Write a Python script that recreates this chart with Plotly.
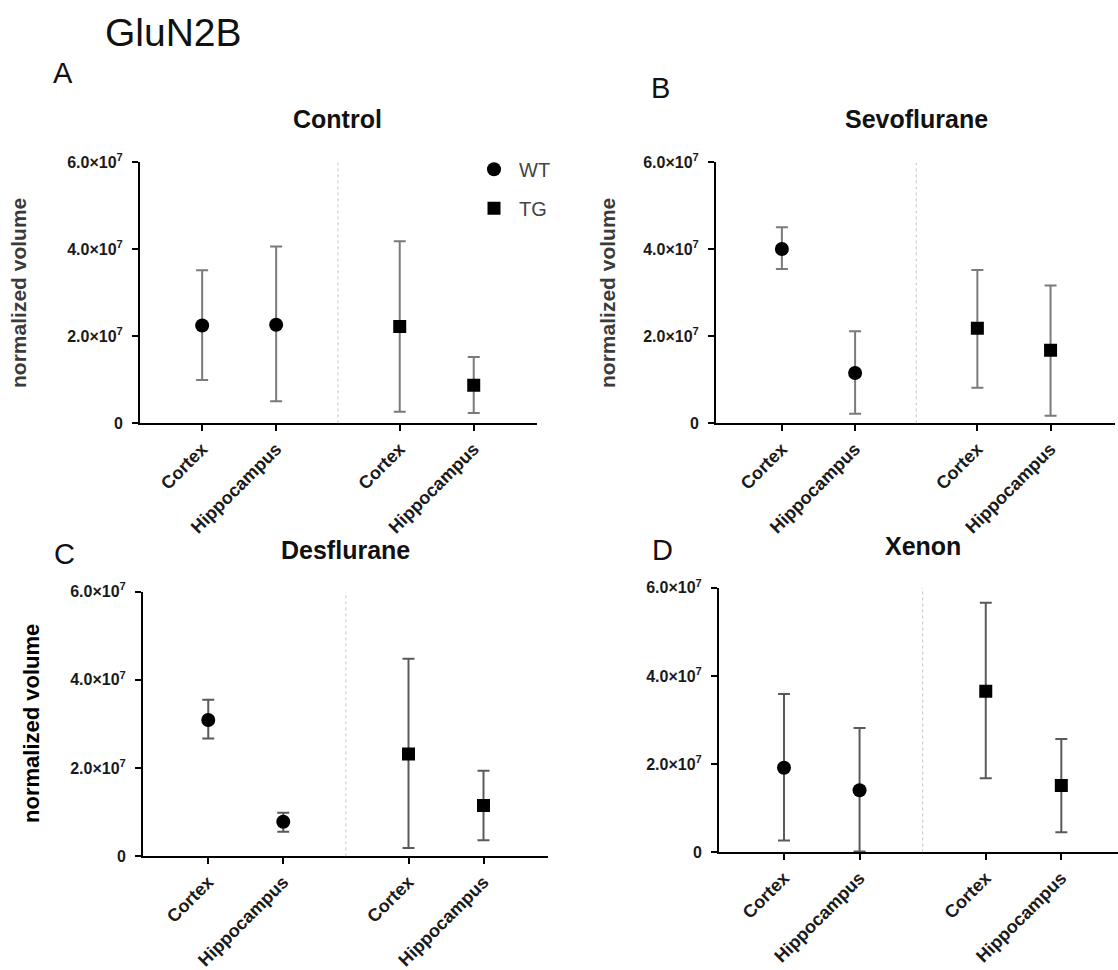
import plotly.graph_objects as go

# Regions measured per genotype, and group positions along each x axis
regions = ["Cortex", "Hippocampus"]
wt_pos = [0.0, 1.0]
tg_pos = [2.67, 3.67]
divider_pos = 1.835

# GluN2B normalized volume (x 10^6): mean, upper whisker, lower whisker
panels = ["Control", "Sevoflurane", "Desflurane", "Xenon"]
letters = ["A", "B", "C", "D"]

wt_mean = {"Control": [22.5, 22.7], "Sevoflurane": [40.1, 11.6],
           "Desflurane": [30.9, 7.85], "Xenon": [19.2, 14.1]}
wt_hi = {"Control": [35.2, 40.7], "Sevoflurane": [45.1, 21.2],
         "Desflurane": [35.5, 9.9], "Xenon": [35.9, 28.2]}
wt_lo = {"Control": [10.0, 5.1], "Sevoflurane": [35.5, 2.2],
         "Desflurane": [26.7, 5.6], "Xenon": [2.7, 0.2]}

tg_mean = {"Control": [22.3, 8.8], "Sevoflurane": [21.9, 16.8],
           "Desflurane": [23.2, 11.5], "Xenon": [36.5, 15.2]}
tg_hi = {"Control": [41.9, 15.3], "Sevoflurane": [35.3, 31.7],
         "Desflurane": [44.8, 19.4], "Xenon": [56.6, 25.7]}
tg_lo = {"Control": [2.7, 2.4], "Sevoflurane": [8.2, 1.75],
         "Desflurane": [1.9, 3.65], "Xenon": [16.8, 4.6]}

y_tickvals = [0, 2e7, 4e7, 6e7]
y_ticktext = ["<b>0</b>", "<b>2.0×10<sup>7</sup></b>",
              "<b>4.0×10<sup>7</sup></b>", "<b>6.0×10<sup>7</sup></b>"]
x_ticktext = ["<b>" + r + "</b>" for r in regions + regions]

W, H = 1118, 970
FONT = "Liberation Sans, Arial, sans-serif"

# Pixel layout of each panel: x-axis left/right, y-axis top/bottom, x range
layout_px = {
    "Control":     dict(x0=140, x1=537, yt=155, yb=422, xr=[-0.84, 4.525], bar="#7a7a7a"),
    "Sevoflurane": dict(x0=716, x1=1115, yt=155, yb=422, xr=[-0.90, 4.55], bar="#7a7a7a"),
    "Desflurane":  dict(x0=143, x1=548, yt=594, yb=865, xr=[-0.87, 4.53], bar="#5a5a5a"),
    "Xenon":       dict(x0=719, x1=1118, yt=590, yb=861, xr=[-0.86, 4.42], bar="#5a5a5a"),
}

fig = go.Figure()
shapes = []
annotations = []


def errs(mean, hi, lo):
    up = [(h - m) * 1e6 for m, h in zip(mean, hi)]
    dn = [(m - l) * 1e6 for m, l in zip(mean, lo)]
    return up, dn


def paper(px, py):
    return px / W, (H - py) / H


for i, name in enumerate(panels):
    p = layout_px[name]
    ax = "" if i == 0 else str(i + 1)
    xa, ya = "x" + ax, "y" + ax

    up, dn = errs(wt_mean[name], wt_hi[name], wt_lo[name])
    fig.add_trace(go.Scatter(
        x=wt_pos, y=[v * 1e6 for v in wt_mean[name]], xaxis=xa, yaxis=ya,
        mode="markers", name="WT", legendgroup="WT", showlegend=(i == 0),
        marker=dict(symbol="circle", size=14, color="black"),
        error_y=dict(type="data", array=up, arrayminus=dn, color=p["bar"],
                     thickness=2, width=6),
    ))
    up, dn = errs(tg_mean[name], tg_hi[name], tg_lo[name])
    fig.add_trace(go.Scatter(
        x=tg_pos, y=[v * 1e6 for v in tg_mean[name]], xaxis=xa, yaxis=ya,
        mode="markers", name="TG", legendgroup="TG", showlegend=(i == 0),
        marker=dict(symbol="square", size=13, color="black"),
        error_y=dict(type="data", array=up, arrayminus=dn, color=p["bar"],
                     thickness=2, width=6),
    ))

    xdom = [p["x0"] / W, min(p["x1"] / W, 1.0)]
    ydom = [(H - p["yb"]) / H, (H - p["yt"]) / H]
    fig.layout["xaxis" + ax] = dict(
        domain=xdom, range=p["xr"], anchor=ya, showgrid=False, zeroline=False,
        showline=True, linecolor="black", linewidth=2,
        tickmode="array", tickvals=wt_pos + tg_pos, ticktext=x_ticktext,
        ticks="outside", ticklen=6, tickwidth=2, tickcolor="black",
        tickangle=-45, tickfont=dict(family=FONT, size=18, color="#1a1a1a"),
    )
    fig.layout["yaxis" + ax] = dict(
        domain=ydom, range=[0, 6e7], anchor=xa, showgrid=False, zeroline=False,
        showline=True, linecolor="black", linewidth=2,
        tickmode="array", tickvals=y_tickvals, ticktext=y_ticktext,
        ticks="outside", ticklen=6, tickwidth=2, tickcolor="black",
        ticklabelstandoff=6,
        tickfont=dict(family=FONT, size=16, color="#1a1a1a"),
    )

    # dotted divider between genotypes
    shapes.append(dict(type="line", xref=xa, yref=ya, x0=divider_pos, x1=divider_pos,
                       y0=0, y1=6e7, line=dict(color="#c4c4c4", width=1, dash="dot")))

    # panel title centred over the divider
    cx = p["x0"] + (divider_pos - p["xr"][0]) / (p["xr"][1] - p["xr"][0]) * (p["x1"] - p["x0"])
    ty = p["yt"] - 44 if i < 2 else p["yt"] - 43
    tx, tyy = paper(cx, ty)
    annotations.append(dict(text="<b>" + name + "</b>", x=tx, y=tyy,
                            xref="paper", yref="paper", showarrow=False,
                            xanchor="center", yanchor="middle",
                            font=dict(family=FONT, size=25, color="#111111")))

# y-axis titles
ytitles = [("Control", 19, 21, "#3a3a3a"), ("Sevoflurane", 608, 21, "#3a3a3a"),
           ("Desflurane", 32, 22, "#000000")]
for name, px, size, col in ytitles:
    p = layout_px[name]
    tx, tyy = paper(px, (p["yt"] + p["yb"]) / 2)
    annotations.append(dict(text="<b>normalized volume</b>", x=tx, y=tyy,
                            xref="paper", yref="paper", showarrow=False, textangle=-90,
                            xanchor="center", yanchor="middle",
                            font=dict(family=FONT, size=size, color=col)))

letter_pos = {"A": (63, 63), "B": (660, 79), "C": (64, 556), "D": (662, 552)}
for letter in letters:
    tx, tyy = paper(*letter_pos[letter])
    annotations.append(dict(text=letter, x=tx, y=tyy, xref="paper", yref="paper",
                            showarrow=False, xanchor="center", yanchor="middle",
                            font=dict(family=FONT, size=29, color="#111111")))

tx, tyy = paper(103, 22)
annotations.append(dict(text="GluN2B", x=tx, y=tyy, xref="paper", yref="paper",
                        showarrow=False, xanchor="left", yanchor="middle",
                        font=dict(family=FONT, size=39, color="#111111")))

lx, ly = paper(469, 142)
fig.update_layout(
    width=W, height=H, margin=dict(l=0, r=0, t=0, b=0),
    paper_bgcolor="white", plot_bgcolor="white",
    shapes=shapes, annotations=annotations,
    showlegend=True,
    legend=dict(x=lx, y=ly, xanchor="left", yanchor="top",
                bgcolor="rgba(0,0,0,0)", font=dict(family=FONT, size=20, color="#444444"),
                tracegroupgap=10, itemwidth=40),
)

fig.write_html("out.html")
